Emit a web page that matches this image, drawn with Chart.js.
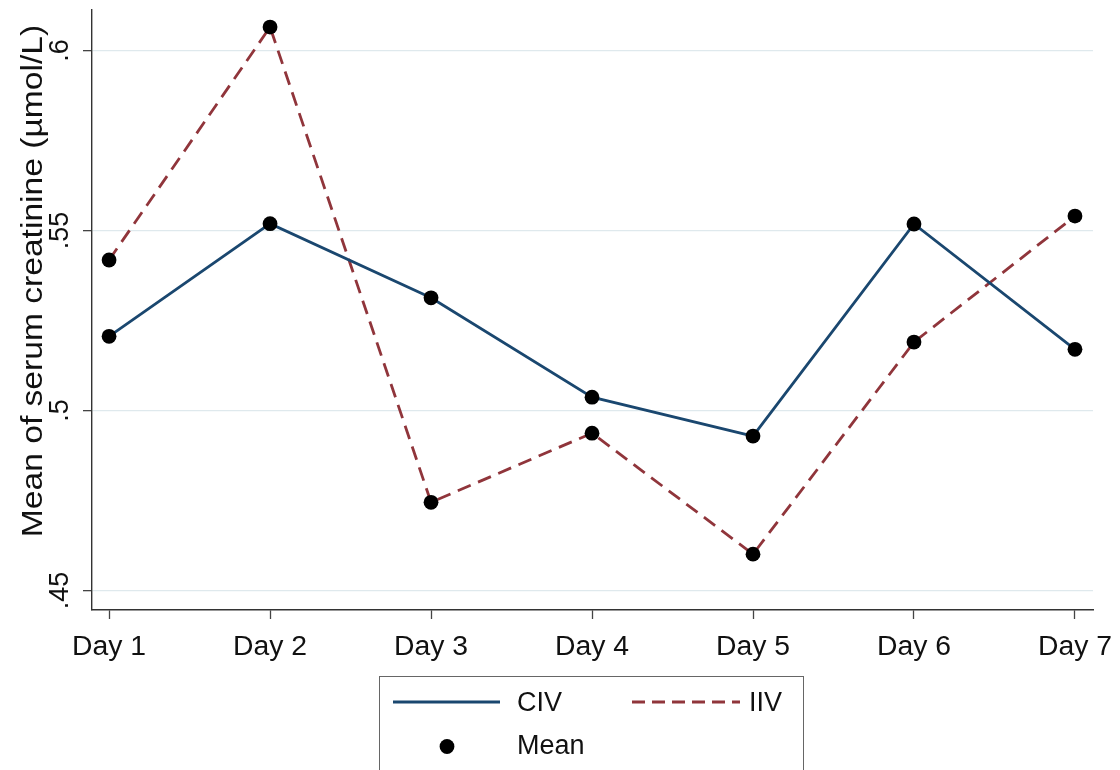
<!DOCTYPE html>
<html>
<head>
<meta charset="utf-8">
<script src="https://cdn.jsdelivr.net/npm/chart.js@4.4.1/dist/chart.umd.min.js"></script>
<style>
  html, body { margin: 0; padding: 0; background: #fff; }
  #wrap { position: relative; width: 1120px; height: 770px; overflow: hidden; }
  #c { position: absolute; left: 0; top: 0; }
  .lg { position: absolute; font-family: "Liberation Sans", Arial, sans-serif; font-size: 27px; line-height: 27px; color: #111; white-space: nowrap; }
  #legendBox { position: absolute; left: 379px; top: 676px; width: 425px; height: 100px; border: 1.5px solid #666; box-sizing: border-box; }
</style>
</head>
<body>
<div id="wrap">
  <canvas id="c" width="1120" height="770"></canvas>
  <div id="legendBox"></div>
  <svg style="position:absolute;left:0;top:0" width="1120" height="770">
    <line x1="393" y1="702" x2="500" y2="702" stroke="#1a476f" stroke-width="2.8"/>
    <line x1="632" y1="702" x2="740" y2="702" stroke="#90353b" stroke-width="2.8" stroke-dasharray="13 7"/>
    <circle cx="447" cy="746.5" r="7.4" fill="#000"/>
  </svg>
  <div class="lg" id="lgCIV" style="left:517px; top:689px;">CIV</div>
  <div class="lg" id="lgIIV" style="left:749px; top:689px;">IIV</div>
  <div class="lg" id="lgMean" style="left:517px; top:732px;">Mean</div>
</div>
<script>
// ---- data ----
const days = ['Day 1', 'Day 2', 'Day 3', 'Day 4', 'Day 5', 'Day 6', 'Day 7'];
const civMeans = [0.5206, 0.5519, 0.5313, 0.5037, 0.4929, 0.5518, 0.5170];
const iivMeans = [0.5418, 0.6065, 0.4745, 0.4937, 0.4601, 0.5190, 0.5540];
const yTickValues = [0.45, 0.50, 0.55, 0.60];
const yTickLabels = ['.45', '.5', '.55', '.6'];
const yTitle = 'Mean of serum creatinine (\u00b5mol/L)';

const FONT = '"Liberation Sans", Arial, sans-serif';

function stretchedText(ctx, text, x, y, rot, size, sx, align) {
  ctx.save();
  ctx.translate(x, y);
  ctx.rotate(rot);
  ctx.scale(sx, 1);
  ctx.font = size + 'px ' + FONT;
  ctx.fillStyle = '#111';
  ctx.textAlign = align || 'center';
  ctx.textBaseline = 'alphabetic';
  ctx.fillText(text, 0, 0);
  ctx.restore();
}

const textPlugin = {
  id: 'axisText',
  afterDraw(chart) {
    const ctx = chart.ctx;
    const xs = chart.scales.x, ys = chart.scales.y;
    // x tick labels
    xs.ticks.forEach((t) => {
      const px = xs.getPixelForValue(t.value);
      stretchedText(ctx, days[t.value - 1], px, chart.chartArea.bottom + 44.5, 0, 27, 1.05);
    });
    // y tick labels (rotated)
    ys.ticks.forEach((t) => {
      const idx = yTickValues.findIndex(v => Math.abs(v - t.value) < 1e-9);
      if (idx < 0) return;
      const py = ys.getPixelForValue(t.value);
      stretchedText(ctx, yTickLabels[idx], chart.chartArea.left - 24, py, -Math.PI / 2, 27, 1.0);
    });
    // y title
    stretchedText(ctx, yTitle, 41.5, 281, -Math.PI / 2, 30, 1.12);
  }
};

const ctx = document.getElementById('c').getContext('2d');
new Chart(ctx, {
  type: 'line',
  data: {
    datasets: [
      {
        label: 'CIV',
        data: civMeans.map((v, i) => ({ x: i + 1, y: v })),
        borderColor: '#1a476f',
        borderWidth: 2.8,
        tension: 0,
        pointRadius: 7.4,
        pointBackgroundColor: '#000',
        pointBorderWidth: 0,
        fill: false
      },
      {
        label: 'IIV',
        data: iivMeans.map((v, i) => ({ x: i + 1, y: v })),
        borderColor: '#90353b',
        borderWidth: 2.8,
        borderDash: [14, 8],
        tension: 0,
        pointRadius: 7.4,
        pointBackgroundColor: '#000',
        pointBorderWidth: 0,
        fill: false
      }
    ]
  },
  options: {
    responsive: false,
    animation: false,
    devicePixelRatio: 1,
    layout: { padding: { top: 10, right: 27, left: 0, bottom: 0 } },
    plugins: { legend: { display: false }, tooltip: { enabled: false } },
    scales: {
      x: {
        type: 'linear',
        min: 0.894,
        max: 7.112,
        afterBuildTicks: (s) => { s.ticks = days.map((d, i) => ({ value: i + 1 })); },
        afterFit: (s) => { s.height = 160; },
        ticks: { display: false },
        grid: { drawOnChartArea: false, drawTicks: true, tickLength: 9, tickColor: '#444', tickWidth: 1.3, color: '#444' },
        border: { display: true, color: '#333', width: 1.4 }
      },
      y: {
        type: 'linear',
        min: 0.44458,
        max: 0.61125,
        afterBuildTicks: (s) => { s.ticks = yTickValues.map(v => ({ value: v })); },
        afterFit: (s) => { s.width = 92; },
        ticks: { display: false },
        grid: { drawOnChartArea: true, drawTicks: true, tickLength: 9, tickColor: '#444', tickWidth: 1.3, color: '#dfe9ed', lineWidth: 1.3 },
        border: { display: true, color: '#333', width: 1.4 }
      }
    }
  },
  plugins: [textPlugin]
});
</script>
</body>
</html>
